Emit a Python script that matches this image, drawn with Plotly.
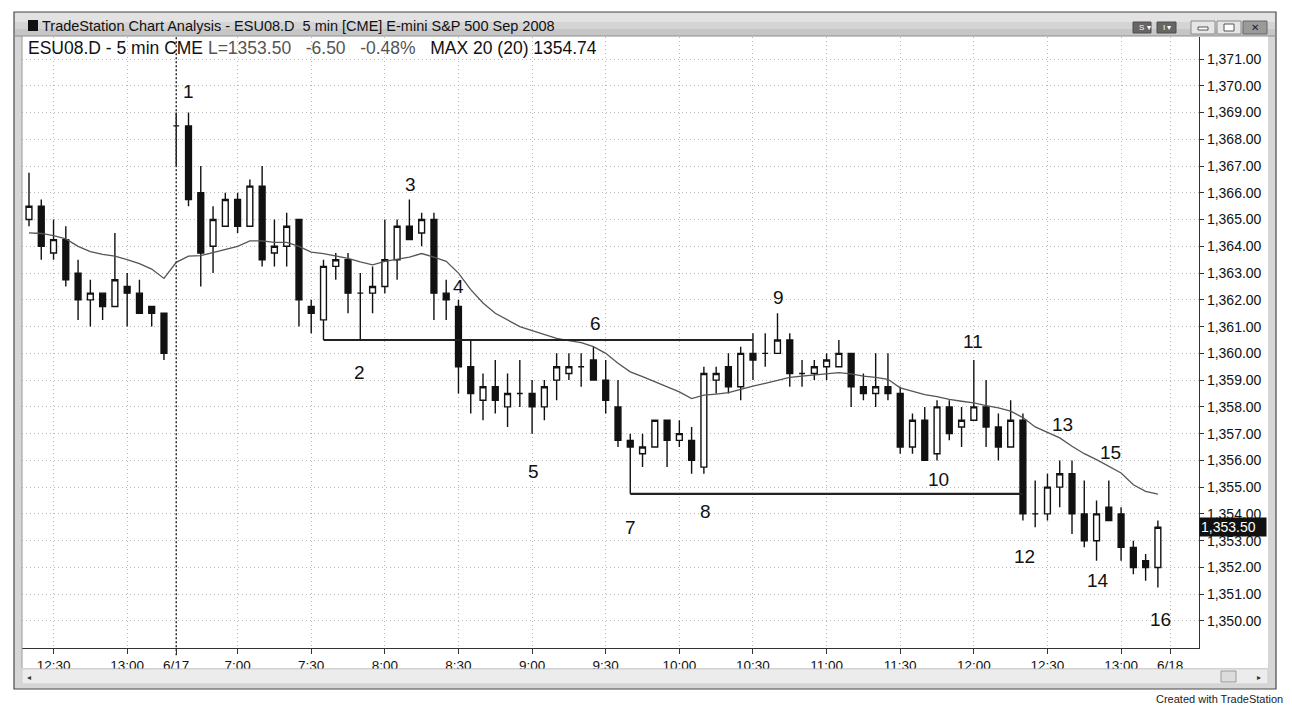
import plotly.graph_objects as go

# ---------------- DATA ----------------
session_dates = ["6/16", "6/17"]
next_session = "6/18"

# 6/16 tail (12:20 - 13:15)
prev_open  = [1365.0, 1365.5, 1363.75, 1364.25, 1363.0, 1362.0, 1362.25, 1361.75, 1362.5, 1362.25, 1361.75, 1361.5]
prev_high  = [1366.75, 1365.75, 1365.0, 1364.75, 1363.5, 1362.75, 1362.25, 1364.5, 1363.0, 1362.75, 1361.75, 1361.5]
prev_low   = [1364.75, 1363.5, 1363.5, 1362.5, 1361.25, 1361.0, 1361.25, 1361.75, 1361.0, 1361.5, 1361.0, 1359.75]
prev_close = [1365.5, 1364.0, 1364.25, 1362.75, 1362.0, 1362.25, 1361.75, 1362.75, 1362.25, 1361.5, 1361.5, 1360.0]
prev_ma    = [1364.5, 1364.48, 1364.4, 1364.28, 1364.0, 1363.8, 1363.7, 1363.63, 1363.5, 1363.35, 1363.15, 1362.8]

# 6/17 session (6:35 - 13:15)
day_open = [
    1368.5, 1368.5, 1366.0, 1364.0, 1364.75, 1365.75, 1364.75, 1366.25, 1363.75, 1364.0,
    1365.0, 1361.75, 1361.25, 1363.25, 1363.5, 1362.25, 1362.25, 1362.5, 1363.5, 1364.75,
    1364.5, 1365.0, 1362.25, 1361.75, 1359.5, 1358.25, 1358.75, 1358.0, 1358.5, 1358.5,
    1358.0, 1359.0, 1359.25, 1359.5, 1359.75, 1359.0, 1358.0, 1356.75, 1356.25, 1356.5,
    1357.5, 1356.75, 1356.75, 1355.75, 1359.0, 1359.5, 1358.75, 1360.0, 1360.0, 1360.0,
    1360.5, 1359.25, 1359.25, 1359.5, 1359.5, 1360.0, 1358.75, 1358.5, 1358.75, 1358.5,
    1356.5, 1357.5, 1356.25, 1358.0, 1357.25, 1357.5, 1358.0, 1357.25, 1356.5, 1357.5,
    1354.0, 1354.0, 1355.0, 1355.5, 1354.0, 1353.0, 1354.25, 1354.0, 1352.75, 1352.25,
    1352.0]
day_high = [
    1369.0, 1369.0, 1367.0, 1365.5, 1366.0, 1366.0, 1366.5, 1367.0, 1365.0, 1365.25,
    1365.0, 1362.0, 1363.5, 1363.75, 1363.75, 1363.0, 1363.25, 1365.0, 1365.0, 1365.75,
    1365.25, 1365.25, 1362.75, 1362.0, 1360.5, 1359.25, 1359.75, 1359.25, 1359.75, 1359.0,
    1359.0, 1360.0, 1360.0, 1360.0, 1360.25, 1359.75, 1359.0, 1357.0, 1357.0, 1357.5,
    1357.5, 1357.5, 1357.25, 1359.5, 1359.5, 1360.0, 1360.25, 1360.75, 1360.75, 1361.5,
    1360.75, 1359.75, 1359.75, 1360.0, 1360.5, 1360.0, 1359.25, 1360.0, 1360.0, 1358.75,
    1357.75, 1358.0, 1358.25, 1358.25, 1358.0, 1359.75, 1359.0, 1357.75, 1358.25, 1357.75,
    1355.25, 1355.5, 1356.0, 1356.0, 1355.25, 1354.5, 1355.25, 1354.25, 1353.0, 1352.5,
    1353.75]
day_low = [
    1367.0, 1365.5, 1362.5, 1363.0, 1364.75, 1364.5, 1364.75, 1363.25, 1363.25, 1363.25,
    1361.0, 1360.75, 1360.5, 1362.75, 1361.5, 1360.5, 1361.5, 1362.25, 1362.75, 1364.25,
    1364.0, 1361.25, 1361.25, 1358.5, 1357.75, 1357.5, 1357.75, 1357.25, 1358.0, 1357.0,
    1357.5, 1358.25, 1359.0, 1358.75, 1359.0, 1357.75, 1356.5, 1354.75, 1355.75, 1356.5,
    1355.75, 1356.5, 1355.5, 1355.5, 1358.5, 1358.5, 1358.25, 1359.0, 1359.5, 1360.0,
    1358.75, 1358.75, 1359.0, 1359.0, 1359.5, 1358.0, 1358.25, 1358.0, 1358.25, 1356.25,
    1356.25, 1356.0, 1356.0, 1356.75, 1356.5, 1357.5, 1356.5, 1356.0, 1356.5, 1353.75,
    1353.5, 1353.75, 1354.25, 1353.25, 1352.75, 1352.25, 1353.75, 1352.25, 1351.75, 1351.5,
    1351.25]
day_close = [
    1368.5, 1365.75, 1363.75, 1365.0, 1365.75, 1364.75, 1366.25, 1363.5, 1364.0, 1364.75,
    1362.0, 1361.5, 1363.25, 1363.5, 1362.25, 1362.25, 1362.5, 1363.5, 1364.75, 1364.25,
    1365.0, 1362.25, 1362.0, 1359.5, 1358.5, 1358.75, 1358.25, 1358.5, 1358.5, 1358.0,
    1358.75, 1359.5, 1359.5, 1359.5, 1359.0, 1358.25, 1356.75, 1356.5, 1356.5, 1357.5,
    1356.75, 1357.0, 1356.0, 1359.25, 1359.25, 1358.75, 1360.0, 1359.75, 1360.0, 1360.5,
    1359.25, 1359.25, 1359.5, 1359.75, 1360.0, 1358.75, 1358.5, 1358.75, 1358.5, 1356.5,
    1357.5, 1356.0, 1358.0, 1357.0, 1357.5, 1358.0, 1357.25, 1356.5, 1357.5, 1354.0,
    1354.0, 1355.0, 1355.5, 1354.0, 1353.0, 1354.0, 1353.75, 1352.75, 1352.0, 1352.0,
    1353.5]
day_ma = [
    1363.4, 1363.63, 1363.65, 1363.76, 1363.88, 1364.0, 1364.2, 1364.2, 1364.15, 1364.15,
    1364.0, 1363.78, 1363.73, 1363.65, 1363.55, 1363.42, 1363.31, 1363.44, 1363.53, 1363.6,
    1363.73, 1363.6, 1363.44, 1363.0, 1362.38, 1361.88, 1361.5, 1361.25, 1361.0, 1360.85,
    1360.7, 1360.56, 1360.48, 1360.4, 1360.25, 1360.0, 1359.63, 1359.31, 1359.13, 1358.94,
    1358.75, 1358.56, 1358.31, 1358.44, 1358.48, 1358.53, 1358.65, 1358.78, 1358.88, 1359.0,
    1359.1, 1359.15, 1359.19, 1359.23, 1359.28, 1359.23, 1359.15, 1359.1, 1359.03, 1358.71,
    1358.59, 1358.46, 1358.38, 1358.28, 1358.21, 1358.15, 1358.05, 1357.96, 1357.84, 1357.6,
    1357.25, 1357.03, 1356.84, 1356.53, 1356.25, 1356.03, 1355.78, 1355.53, 1355.09, 1354.84,
    1354.74]

# session time labels
prev_start, prev_end = (12, 20), (13, 15)
day_start, day_end = (6, 35), (13, 15)

# drawn horizontal lines: (level, start bar of 6/17, end bar of 6/17)
drawn_levels = [1360.5, 1354.75]
drawn_start = [12, 37]
drawn_end = [47, 69]

wave_labels = ["1", "2", "3", "4", "5", "6", "7", "8", "9", "10", "11", "12", "13", "14", "15", "16"]

y_ticks = list(range(1350, 1372))

header_parts = ["ESU08.D - 5 min CME", "L=1353.50", "-6.50", "-0.48%", "MAX 20 (20) 1354.74"]
window_title = "TradeStation Chart Analysis - ESU08.D  5 min [CME] E-mini S&P 500 Sep 2008"
last_price = 1353.50

# ---------------- BUILD ----------------
def times_between(start, end):
    h, m = start
    out = []
    while (h, m) <= end:
        out.append(f"{h}:{m:02d}")
        m += 5
        if m == 60:
            h, m = h + 1, 0
    return out

bars = [(session_dates[0], t) for t in times_between(prev_start, prev_end)] + \
       [(session_dates[1], t) for t in times_between(day_start, day_end)]
opens = prev_open + day_open
highs = prev_high + day_high
lows = prev_low + day_low
closes = prev_close + day_close
ma = prev_ma + day_ma
xs = list(range(len(bars)))
n_prev = len(prev_open)

tickvals, ticktext = [], []
for i, (d, t) in enumerate(bars):
    if i > 0 and d != bars[i - 1][0]:
        tickvals.append(i); ticktext.append(d)
    elif t.endswith(":00") or t.endswith(":30"):
        tickvals.append(i); ticktext.append(t)
tickvals.append(len(bars)); ticktext.append(next_session)

FONT = "Liberation Sans, Arial, sans-serif"

fig = go.Figure()
fig.add_trace(go.Scatter(x=xs, y=ma, mode="lines",
                         line=dict(color="#555555", width=1.3), hoverinfo="skip", showlegend=False))
for lvl, s, e in zip(drawn_levels, drawn_start, drawn_end):
    fig.add_trace(go.Scatter(x=[n_prev + s, n_prev + e], y=[lvl, lvl], mode="lines",
                             line=dict(color="#222222", width=2.2), hoverinfo="skip", showlegend=False))
fig.add_trace(go.Candlestick(
    x=xs, open=opens, high=highs, low=lows, close=closes,
    increasing=dict(line=dict(color="#111111", width=1.4), fillcolor="white"),
    decreasing=dict(line=dict(color="#111111", width=1.4), fillcolor="#111111"),
    whiskerwidth=0, hoverinfo="skip", showlegend=False))

# ---------------- LAYOUT / CHROME ----------------
W, H = 1292, 706
L, R, T, B = 22, 1199, 37, 648

def PX(x):
    return (x - L) / (R - L)

def PY(y):
    return (B - y) / (B - T)

shapes = []
def rect(x0, y0, x1, y1, fill, line="rgba(0,0,0,0)", lw=1, layer="above"):
    shapes.append(dict(type="rect", xref="paper", yref="paper",
                       x0=PX(x0), x1=PX(x1), y0=PY(y1), y1=PY(y0),
                       fillcolor=fill, line=dict(color=line, width=lw), layer=layer))

# window frame and white client area
rect(14, 12, 1276, 689, "#d6d6d6", "#4a4a4a", 1.2, layer="below")
rect(22, 36, 1268, 668, "white", layer="below")
# title bar (two-tone to suggest a gradient)
rect(15, 13, 1275, 22, "#e2e2e2")
rect(15, 22, 1275, 29, "#d4d4d4")
rect(15, 29, 1275, 36, "#c6c6c6")
shapes.append(dict(type="line", xref="paper", yref="paper", x0=PX(14), x1=PX(1276), y0=PY(36), y1=PY(36),
                   line=dict(color="#8e8e8e", width=1)))
rect(28, 20, 38, 31, "#111111")
# buttons
rect(1133, 22, 1151, 33, "#666666", "#4f4f4f")
rect(1157, 22, 1176, 33, "#666666", "#4f4f4f")
rect(1191, 21, 1215, 34, "#e6e6e6", "#8a8a8a")
rect(1217, 21, 1241, 34, "#e6e6e6", "#8a8a8a")
rect(1243, 21, 1267, 34, "#9a9a9a", "#666666")
rect(1198, 27, 1208, 30, "white", "#555555")
rect(1224, 24, 1234, 31, "white", "#555555")
# scrollbar
rect(22, 669, 1268, 684, "#ececec", "#cfcfcf")
rect(1221, 671, 1236, 682, "#dcdcdc", "#9a9a9a")
# left border of plot
shapes.append(dict(type="line", xref="paper", yref="paper", x0=PX(22), x1=PX(22), y0=PY(36), y1=PY(668),
                   line=dict(color="#9a9a9a", width=1)))
# session separator
shapes.append(dict(type="line", xref="x", yref="paper", x0=n_prev, x1=n_prev, y0=-0.012, y1=1,
                   line=dict(color="#333333", width=1.5, dash="2px,2px"), layer="above"))

annotations = []
def text(x, y, s, size, color="#111111", anchor="left", **kw):
    annotations.append(dict(xref="paper", yref="paper", x=PX(x), y=PY(y), text=s, showarrow=False,
                            xanchor=anchor, yanchor="middle", font=dict(family=FONT, size=size, color=color), **kw))

text(40, 26, window_title, 14.5)
text(1137, 27.5, "S ▾", 8, "white")
text(1161, 27.5, "I ▾", 8, "white")
text(1255, 27.5, "✕", 10, "#222222", anchor="center")
text(25, 677, "◂", 8, "#333333")
text(1255, 677, "▸", 8, "#333333")
text(1285, 699, "Created with TradeStation", 11, "#222222", anchor="right")
sp = "&nbsp;&nbsp;&nbsp;"
header = (f"<span style='color:#111'>{header_parts[0]}</span> "
          f"<span style='color:#555'>{header_parts[1]}{sp}{header_parts[2]}{sp}{header_parts[3]}</span>{sp}"
          f"<span style='color:#111'>{header_parts[4]}</span>")
text(26, 48, header, 17.5)

# last price marker
annotations.append(dict(xref="paper", yref="y", x=1, y=last_price, xanchor="left", yanchor="middle",
                        text=f"{last_price:,.2f}", showarrow=False, bgcolor="#111111",
                        font=dict(family=FONT, size=14, color="white"), width=64, align="left",
                        borderpad=1))

# wave labels (bar position, price level)
label_pos = [(13.0, 1369.8), (26.9, 1359.3), (31.1, 1366.3), (35.0, 1362.5), (41.1, 1355.6),
             (46.2, 1361.1), (49.0, 1353.5), (55.1, 1354.1), (61.1, 1362.07), (74.1, 1355.27),
             (76.9, 1360.46), (81.1, 1352.4), (84.2, 1357.36), (87.1, 1351.5), (88.1, 1356.3),
             (92.2, 1350.04)]
for lab, (bx, by) in zip(wave_labels, label_pos):
    annotations.append(dict(xref="x", yref="y", x=bx, y=by, text=lab, showarrow=False,
                            xanchor="center", yanchor="middle",
                            font=dict(family=FONT, size=19, color="#111111")))

x0_idx = -0.57
x1_idx = 95.35
y_top = 1371 + (59 - T) / 26.76
y_bot = 1371 - (B - 59) / 26.76

GRID = dict(showgrid=True, gridcolor="#b8b8b8", griddash="1px,3px", gridwidth=1)

fig.update_layout(
    width=W, height=H,
    margin=dict(l=L, r=W - R, t=T, b=H - B, pad=0),
    paper_bgcolor="white", plot_bgcolor="white",
    shapes=shapes, annotations=annotations,
    font=dict(family=FONT, color="#111111"),
    boxgap=0.32,
    xaxis=dict(range=[x0_idx, x1_idx], tickmode="array", tickvals=tickvals, ticktext=ticktext,
               showline=True, linecolor="#333333", linewidth=1.2,
               ticks="outside", ticklen=5, tickcolor="#333333",
               tickfont=dict(family=FONT, size=13.5, color="#111111"),
               rangeslider=dict(visible=False), zeroline=False, fixedrange=True, **GRID),
    yaxis=dict(range=[y_bot, y_top], side="right", tickmode="array", tickvals=y_ticks,
               tickformat=",.2f",
               showline=True, linecolor="#333333", linewidth=1.2,
               ticks="outside", ticklen=4, tickcolor="#333333",
               tickfont=dict(family=FONT, size=14, color="#111111"), zeroline=False, fixedrange=True,
               **GRID),
)

fig.write_html("out.html", config={"displayModeBar": False},
               post_script="document.body.style.margin='0';document.body.style.overflow='hidden';")
